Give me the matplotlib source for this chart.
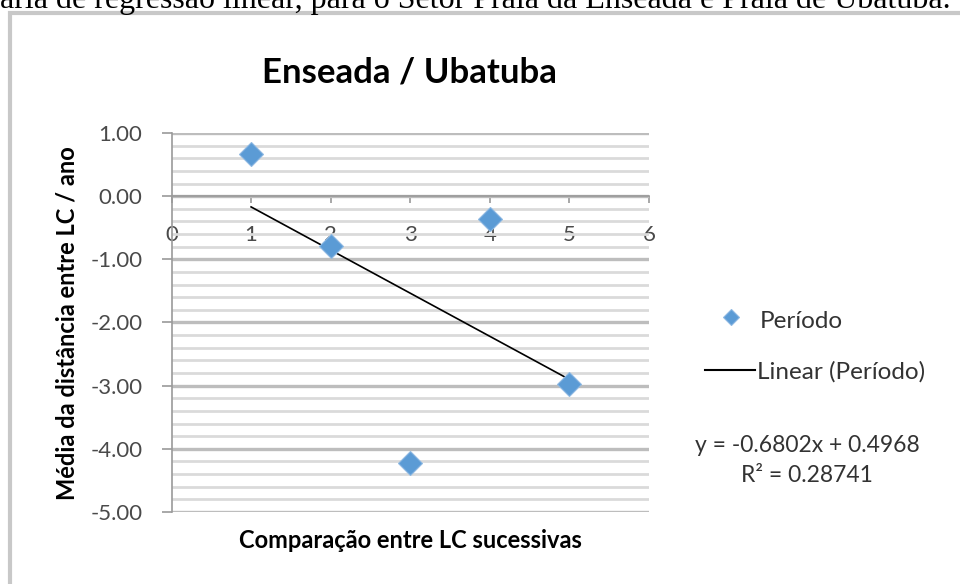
import numpy as np
import matplotlib
matplotlib.use("Agg")
import matplotlib.pyplot as plt
from matplotlib.ticker import MultipleLocator, FormatStrFormatter
from matplotlib.lines import Line2D
from matplotlib.patches import Rectangle

# ---- data ----
x_vals = [1, 2, 3, 4, 5]
y_vals = [0.66, -0.79, -4.22, -0.36, -2.97]
x_ticks = [0, 1, 2, 3, 4, 5, 6]
y_ticks = [1, 0, -1, -2, -3, -4, -5]
title = "Enseada / Ubatuba"
xlabel = "Comparação entre LC sucessivas"
ylabel = "Média da distância entre LC / ano"
series_name = "Período"
trend_name = "Linear (Período)"
eq_text = "y = -0.6802x + 0.4968"
r2_text = "R² = 0.28741"
caption = "ária de regressão linear, para o Setor Praia da Enseada e Praia de Ubatuba."

FONT = ["Lato", "DejaVu Sans"]
W, H = 960, 584
fig = plt.figure(figsize=(W / 100, H / 100), dpi=100)

def px(x, y):
    return x / W, 1 - y / H

# caption cut at top
fig.text(0.0, 1 - 8 / H, caption, family=["Liberation Serif"], fontsize=23,
         va="baseline", ha="left", color="black")

# chart frame
frame = Rectangle(px(10, 600), (W + 20) / W, (600 - 13) / H, transform=fig.transFigure,
                  fill=False, edgecolor="#c8c8c8", linewidth=3, zorder=0)
fig.patches.append(frame)

left, right, top, bottom = 171.5, 649, 133, 512
ax = fig.add_axes([left / W, 1 - bottom / H, (right - left) / W, (bottom - top) / H])
ax.set_xlim(0, 6)
ax.set_ylim(-5, 1)

for s in ["top", "right"]:
    ax.spines[s].set_visible(False)
ax.spines["bottom"].set_position(("data", 0))
ax.spines["bottom"].set_color("#9a9a9a")
ax.spines["left"].set_color("#9a9a9a")
ax.spines["bottom"].set_linewidth(1.2)
ax.spines["left"].set_linewidth(1.2)

ax.set_xticks(x_ticks)
ax.set_xticklabels([str(t) for t in x_ticks])
ax.set_yticks(y_ticks)
ax.yaxis.set_major_formatter(FormatStrFormatter("%.2f"))
ax.yaxis.set_minor_locator(MultipleLocator(0.2))

ax.tick_params(axis="y", which="major", direction="out", length=7, width=1.2,
               color="#9a9a9a", pad=14, labelsize=16, labelcolor="#4a4a4a")
ax.tick_params(axis="y", which="minor", length=0)
ax.tick_params(axis="x", which="major", direction="out", length=5, width=1.2,
               color="#9a9a9a", pad=16, labelsize=16, labelcolor="#4a4a4a")
for lab in ax.get_xticklabels() + ax.get_yticklabels():
    lab.set_family(FONT)

ax.grid(axis="y", which="major", color="#bdbdbd", linewidth=2.4, zorder=0)
ax.grid(axis="y", which="minor", color="#dadada", linewidth=2.0, zorder=0)
ax.set_axisbelow(True)
ax.patch.set_alpha(0)

# trend line
coef = np.polyfit(x_vals, y_vals, 1)
xs = np.array([min(x_vals), max(x_vals)])
ax.plot(xs, np.polyval(coef, xs), color="black", linewidth=1.2, zorder=3)

# points
ax.plot(x_vals, y_vals, linestyle="none", marker="D", markersize=12.5,
        markerfacecolor="#5b9bd5", markeredgecolor="#8db8e2", markeredgewidth=0.8,
        zorder=4)

fig.text(409 / W, 1 - 73 / H, title, family=FONT, fontsize=25, fontweight="bold",
         ha="center", va="center", color="black")
fig.text(410 / W, 1 - 540 / H, xlabel, family=FONT, fontsize=17, fontweight="bold",
         ha="center", va="center", color="black")
fig.text(67 / W, 1 - 323 / H, ylabel, family=FONT, fontsize=17, fontweight="bold",
         ha="center", va="center", rotation=90, color="black")

# legend (manual)
fig.lines.append(Line2D([731 / W], [1 - 317 / H], transform=fig.transFigure, marker="D",
                        markersize=8, markerfacecolor="#5b9bd5", markeredgecolor="#8db8e2",
                        markeredgewidth=0.8, linestyle="none"))
fig.text(760 / W, 1 - 322 / H, series_name, family=FONT, fontsize=17.5, ha="left", va="center",
         color="#333333")
fig.lines.append(Line2D([705 / W, 755 / W], [1 - 370 / H, 1 - 370 / H],
                        transform=fig.transFigure, color="black", linewidth=1.5))
fig.text(757 / W, 1 - 372 / H, trend_name, family=FONT, fontsize=17.5, ha="left", va="center",
         color="#333333")
fig.text(807 / W, 1 - 446 / H, eq_text, family=FONT, fontsize=16.5, ha="center", va="center",
         color="#333333")
fig.text(807 / W, 1 - 475 / H, r2_text, family=FONT, fontsize=16.5, ha="center", va="center",
         color="#333333")

fig.savefig("out.png", dpi=100)
